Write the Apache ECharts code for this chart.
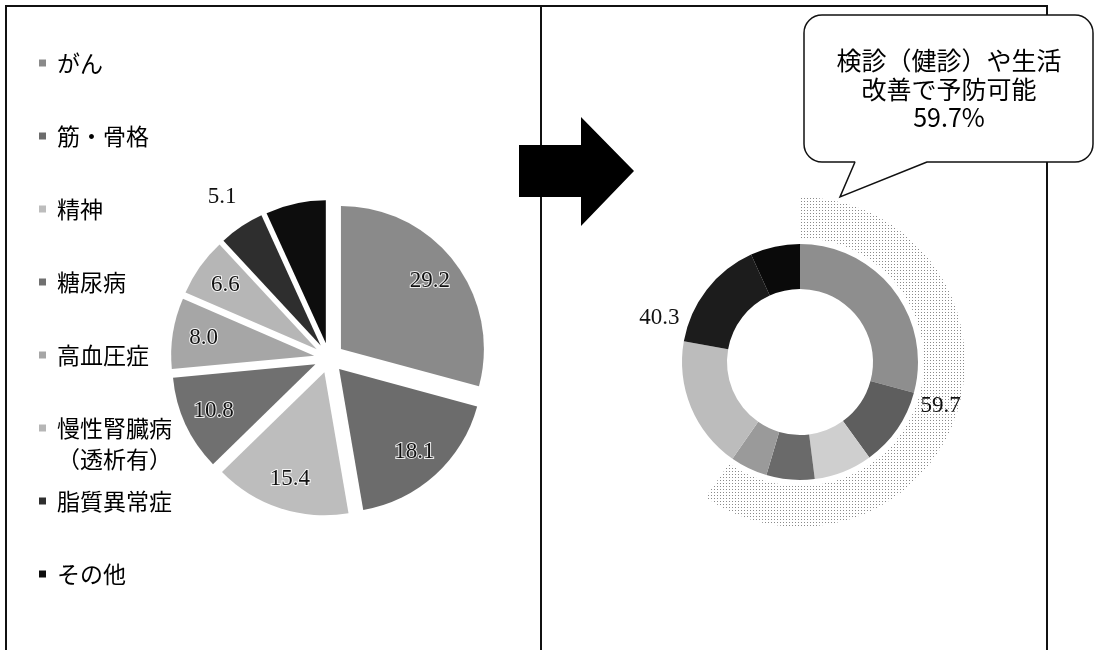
<!DOCTYPE html>
<html lang="ja">
<head>
<meta charset="utf-8">
<title>疾病別構成比</title>
<script src="https://cdn.jsdelivr.net/npm/echarts@6/dist/echarts.min.js"></script>
<style>
  html, body { margin: 0; padding: 0; background: #fff; }
  #chart { width: 1095px; height: 650px; }
</style>
</head>
<body>
<div id="chart"></div>
<script>
// Share of medical cost by disease group (%)
const categories = ['がん', '筋・骨格', '精神', '糖尿病', '高血圧症', '慢性腎臓病\n（透析有）', '脂質異常症', 'その他'];
const shares = [29.2, 18.1, 15.4, 10.8, 8.0, 6.6, 5.1, 6.8];
// 1 = preventable through check-ups and lifestyle improvement
const preventable = [1, 0, 0, 1, 1, 1, 1, 0];
const summaryNames = ['予防可能', '予防困難'];
const summaryValues = [59.7, 40.3];
const calloutLines = ['検診（健診）や生活', '改善で予防可能'];

// ---- styling ----
const pieColors = ['#8a8a8a', '#6c6c6c', '#bdbdbd', '#707070', '#a6a6a6', '#b6b6b6', '#2e2e2e', '#0d0d0d'];
const ringColors = ['#8e8e8e', '#5e5e5e', '#cfcfcf', '#6a6a6a', '#9a9a9a', '#bcbcbc', '#1c1c1c', '#0a0a0a'];
// where each value label of the left pie goes
const labelPlacement = ['inner', 'inner', 'inner', 'inner', 'inner', 'inner', 'outer', 'none'];

const SERIF = "'Liberation Serif', 'DejaVu Serif', 'Noto Sans CJK JP', serif";
const GOTHIC = "'Noto Sans CJK JP', 'Noto Sans', sans-serif";

const pieCenter = [329, 358];
const pieRadius = 143;
const explode = 15;
const ringCenter = [800, 362];

const fmt = v => v.toFixed(1);

function pieData(transparent) {
  return shares.map((v, i) => ({
    name: categories[i],
    value: v,
    selected: true,
    itemStyle: { color: transparent ? 'rgba(0,0,0,0)' : pieColors[i] }
  }));
}

function labelSeries(radius, placement) {
  return {
    type: 'pie',
    silent: true,
    animation: false,
    center: pieCenter,
    radius: radius,
    startAngle: 90,
    clockwise: true,
    selectedMode: 'multiple',
    selectedOffset: explode,
    avoidLabelOverlap: false,
    emphasis: { disabled: true },
    labelLine: { show: false },
    data: pieData(true).map((d, i) => Object.assign(d, {
      label: {
        show: labelPlacement[i] === placement,
        position: 'inside',
        formatter: p => fmt(p.value),
        color: '#111',
        fontFamily: SERIF,
        fontSize: 23,
        textBorderColor: 'rgba(255,255,255,0.85)',
        textBorderWidth: placement === 'inner' ? 2 : 0
      }
    }))
  };
}

// One legend per category, stacked at a fixed pitch; a two-line name keeps
// its first line level with the marker (a blank lead line balances it)
const legendTop0 = 63, legendPitch = 73, legendLine = 26, wrapLine = 31;
const legends = categories.map((name, i) => {
  const twoLine = name.indexOf('\n') >= 0;
  const center = legendTop0 + i * legendPitch;
  return {
    orient: 'vertical',
    left: 39,
    top: twoLine ? center - wrapLine * 1.5 : center - legendLine / 2,
    padding: 0,
    selectedMode: false,
    icon: 'rect',
    itemWidth: 7,
    itemHeight: 7,
    formatter: twoLine ? (n => '\n' + n) : null,
    textStyle: {
      color: '#000',
      fontFamily: GOTHIC,
      fontSize: 23,
      lineHeight: twoLine ? wrapLine : legendLine,
      padding: [0, 0, 0, 6]
    },
    data: [{ name: name, itemStyle: { color: pieColors[i] } }]
  };
});

// Ring: preventable groups first, in category order
const order = categories.map((_, i) => i).sort((a, b) => (preventable[b] - preventable[a]) || (a - b));
const ringData = order.map((i, k) => ({
  name: categories[i],
  value: shares[i],
  itemStyle: { color: ringColors[k] }
}));

const bandData = summaryValues.map((v, i) => ({
  name: summaryNames[i],
  value: v,
  itemStyle: i === 0 ? {
    color: '#ffffff',
    decal: {
      symbol: 'rect',
      symbolSize: 1,
      color: '#8a8a8a',
      dashArrayX: [1, 2],
      dashArrayY: [1, 2]
    }
  } : { color: 'rgba(0,0,0,0)' }
}));

// speech balloon geometry
const balloon = { x: 804, y: 15, w: 289, h: 147, r: 18 };
const tail = [[855, 162], [840, 197], [927, 162]];

const option = {
  backgroundColor: '#ffffff',
  animation: false,
  legend: legends,
  graphic: [
    // panel frame
    { type: 'polyline', silent: true, z: 1, shape: { points: [[6, 650], [6, 6], [1047, 6], [1047, 650]] },
      style: { stroke: '#111', lineWidth: 2, fill: null } },
    { type: 'line', silent: true, z: 1, shape: { x1: 541, y1: 6, x2: 541, y2: 650 },
      style: { stroke: '#111', lineWidth: 2 } },
    // block arrow between the panels
    { type: 'polygon', silent: true, z: 2,
      shape: { points: [[519, 145], [581, 145], [581, 117], [634, 171], [581, 226], [581, 197], [519, 197]] },
      style: { fill: '#000' } },
    // speech balloon body
    { type: 'rect', silent: true, z: 3,
      shape: { x: balloon.x, y: balloon.y, width: balloon.w, height: balloon.h, r: balloon.r },
      style: { fill: '#fff', stroke: '#111', lineWidth: 1.5 } },
    // balloon tail: white fill hides the body edge, then the two tail edges
    { type: 'polygon', silent: true, z: 4,
      shape: { points: [[tail[0][0] + 1, tail[0][1] - 2], [tail[2][0] - 1, tail[2][1] - 2], tail[2], tail[1], tail[0]] },
      style: { fill: '#fff' } },
    { type: 'polyline', silent: true, z: 5, shape: { points: tail },
      style: { stroke: '#111', lineWidth: 1.5, fill: null } },
    { type: 'text', silent: true, z: 6, x: 949, y: 89,
      style: {
        text: calloutLines.concat([summaryValues[0].toFixed(1) + '%']).join('\n'),
        fontFamily: GOTHIC, fontSize: 25, lineHeight: 28.5,
        fill: '#000', align: 'center', verticalAlign: 'middle'
      } }
  ],
  series: [
    {
      name: '構成比',
      type: 'pie',
      silent: true,
      center: pieCenter,
      radius: pieRadius,
      startAngle: 90,
      clockwise: true,
      selectedMode: 'multiple',
      selectedOffset: explode,
      emphasis: { disabled: true },
      label: { show: false },
      labelLine: { show: false },
      data: pieData(false)
    },
    labelSeries(218, 'inner'),
    labelSeries(350, 'outer'),
    {
      name: '構成比（再掲）',
      type: 'pie',
      silent: true,
      center: ringCenter,
      radius: [73, 118],
      startAngle: 90,
      clockwise: true,
      emphasis: { disabled: true },
      label: { show: false },
      labelLine: { show: false },
      data: ringData
    },
    {
      name: '予防可能割合',
      type: 'pie',
      silent: true,
      center: ringCenter,
      radius: [124, 165],
      startAngle: 90,
      clockwise: true,
      emphasis: { disabled: true },
      labelLine: { show: false },
      label: {
        show: true,
        position: 'inside',
        formatter: p => fmt(p.value),
        color: '#111',
        fontFamily: SERIF,
        fontSize: 23
      },
      data: bandData
    }
  ]
};

const chart = echarts.init(document.getElementById('chart'), null, { renderer: 'canvas' });
chart.setOption(option);
</script>
</body>
</html>
